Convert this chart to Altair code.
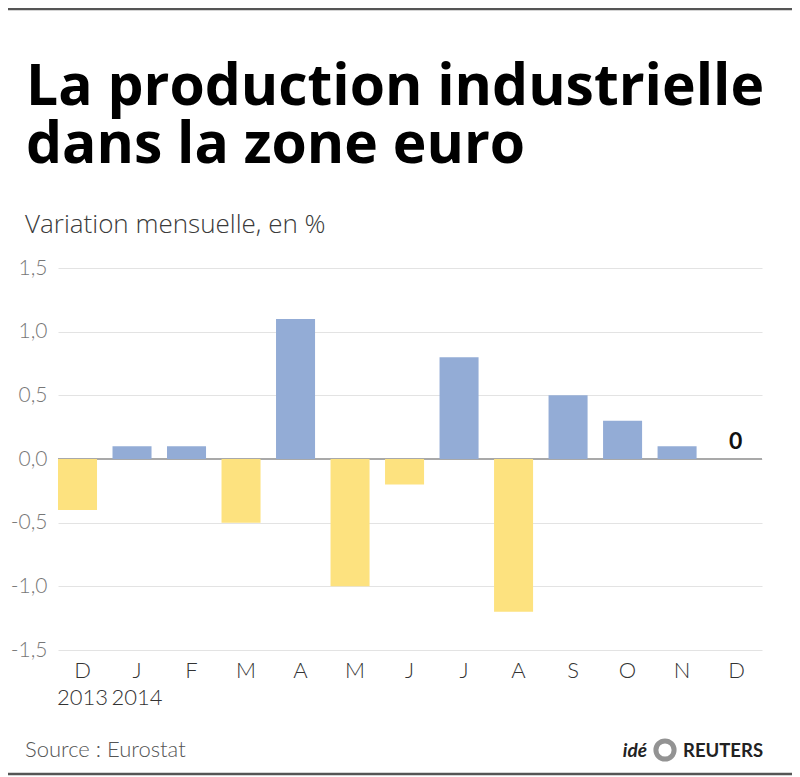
import altair as alt
import pandas as pd

# ---- data ----
periods = ["2013-12", "2014-01", "2014-02", "2014-03", "2014-04", "2014-05", "2014-06",
           "2014-07", "2014-08", "2014-09", "2014-10", "2014-11", "2014-12"]
month_labels = ["D", "J", "F", "M", "A", "M", "J", "J", "A", "S", "O", "N", "D"]
year_labels = ["2013", "2014", "", "", "", "", "", "", "", "", "", "", ""]
values = [-0.4, 0.1, 0.1, -0.5, 1.1, -1.0, -0.2, 0.8, -1.2, 0.5, 0.3, 0.1, 0.0]
y_ticks = [-1.5, -1.0, -0.5, 0.0, 0.5, 1.0, 1.5]

title_lines = ["La production industrielle", "dans la zone euro"]
subtitle = "Variation mensuelle, en %"
source_text = "Source : Eurostat"

df = pd.DataFrame({"period": periods, "value": values})

BLUE = "#93acd6"
YELLOW = "#fde27f"
FONT = "Lato"
TFONT = "Open Sans"

# label expression: multi-line labels built from the lists
lab_items = []
for m, yv in zip(month_labels, year_labels):
    if yv:
        lab_items.append(f"['{m}','{yv}']")
    else:
        lab_items.append(f"'{m}'")
label_expr = "[" + ",".join(lab_items) + "][indexof([" + ",".join(f"'{p}'" for p in periods) + "], datum.value)]"

x_enc = alt.X("period:N", sort=periods,
              scale=alt.Scale(paddingInner=0.284, paddingOuter=0.1, align=0),
              axis=alt.Axis(title=None, labelAngle=0, domain=False, ticks=False,
                            labelExpr=label_expr, labelFontSize=22, labelFont=FONT,
                            labelFontWeight=300, labelColor="#333333", labelPadding=10,
                            labelLineHeight=27, labelOffset=5, labelBaseline="top"))
y_enc = alt.Y("value:Q", scale=alt.Scale(domain=[-1.5, 1.5], nice=False, zero=True),
              axis=alt.Axis(title=None, values=y_ticks, domain=False, ticks=False,
                            grid=True, gridColor="#e3e3e3", gridWidth=1.2,
                            labelExpr="replace(replace(format(datum.value, '.1f'), '.', ','), '\u2212', '-')",
                            labelFontSize=21, labelFont=FONT, labelFontWeight=300,
                            labelColor="#777777", labelPadding=11))

base = alt.Chart(df)

zero_rule = base.mark_rule(color="#a9a9a9", strokeWidth=2).encode(y=alt.datum(0))

bars = base.mark_bar().encode(
    x=x_enc,
    y=y_enc,
    y2=alt.datum(0),
    color=alt.condition(alt.datum.value > 0, alt.value(BLUE), alt.value(YELLOW)),
)

zero_label = base.transform_filter(alt.datum.value == 0).mark_text(
    font=FONT, fontWeight="bold", fontSize=23, color="#111111", baseline="bottom", dy=-5, dx=4
).encode(x=alt.X("period:N", sort=periods), y=alt.Y("value:Q"), text=alt.Text("value:Q", format="d"))

# title and subtitle
t1 = alt.Chart(pd.DataFrame({"t": [title_lines[0]]})).mark_text(
    font=TFONT, fontWeight="bold", fontSize=57, color="#000000", align="left", baseline="alphabetic"
).encode(x=alt.value(-32), y=alt.value(-163), text="t:N")
t2 = alt.Chart(pd.DataFrame({"t": [title_lines[1]]})).mark_text(
    font=TFONT, fontWeight="bold", fontSize=57, color="#000000", align="left", baseline="alphabetic"
).encode(x=alt.value(-32), y=alt.value(-105), text="t:N")
sub = alt.Chart(pd.DataFrame({"t": [subtitle]})).mark_text(
    font=TFONT, fontWeight=300, fontSize=26, color="#3a3a3a", align="left", baseline="alphabetic"
).encode(x=alt.value(-33), y=alt.value(-35), text="t:N")

# source and credit
src = alt.Chart(pd.DataFrame({"t": [source_text]})).mark_text(
    font=FONT, fontWeight=300, fontSize=22, color="#555555", align="left", baseline="alphabetic"
).encode(x=alt.value(-33), y=alt.value(489), text="t:N")

ide = alt.Chart(pd.DataFrame({"t": ["idé"]})).mark_text(
    font=FONT, fontWeight="bold", fontStyle="italic", fontSize=19, color="#222222",
    align="right", baseline="alphabetic"
).encode(x=alt.value(589), y=alt.value(489), text="t:N")
logo = alt.Chart(pd.DataFrame({"t": ["o"]})).mark_point(
    shape="circle", size=330, filled=False, strokeWidth=5, color="#666666"
).encode(x=alt.value(607), y=alt.value(482))
reuters = alt.Chart(pd.DataFrame({"t": ["REUTERS"]})).mark_text(
    font=FONT, fontWeight="bold", fontSize=18.5, color="#222222", align="left", baseline="alphabetic"
).encode(x=alt.value(625), y=alt.value(489), text="t:N")

top_line = alt.Chart(pd.DataFrame({"t": [0]})).mark_rule(color="#555555", strokeWidth=2.5).encode(
    x=alt.value(-50), x2=alt.value(734), y=alt.value(-259))
bottom_line = alt.Chart(pd.DataFrame({"t": [0]})).mark_rule(color="#555555", strokeWidth=2.5).encode(
    x=alt.value(-50), x2=alt.value(734), y=alt.value(506))

chart = alt.layer(zero_rule, bars, zero_label, t1, t2, sub, src, ide, logo, reuters,
                  top_line, bottom_line).properties(
    width=704, height=382,
    background="white",
    padding={"left": 50, "top": 260, "right": 30, "bottom": 127},
    autosize=alt.AutoSizeParams(type="none"),
).configure_view(stroke=None)

chart.save("out.html", embed_options={"renderer": "svg", "actions": False})
